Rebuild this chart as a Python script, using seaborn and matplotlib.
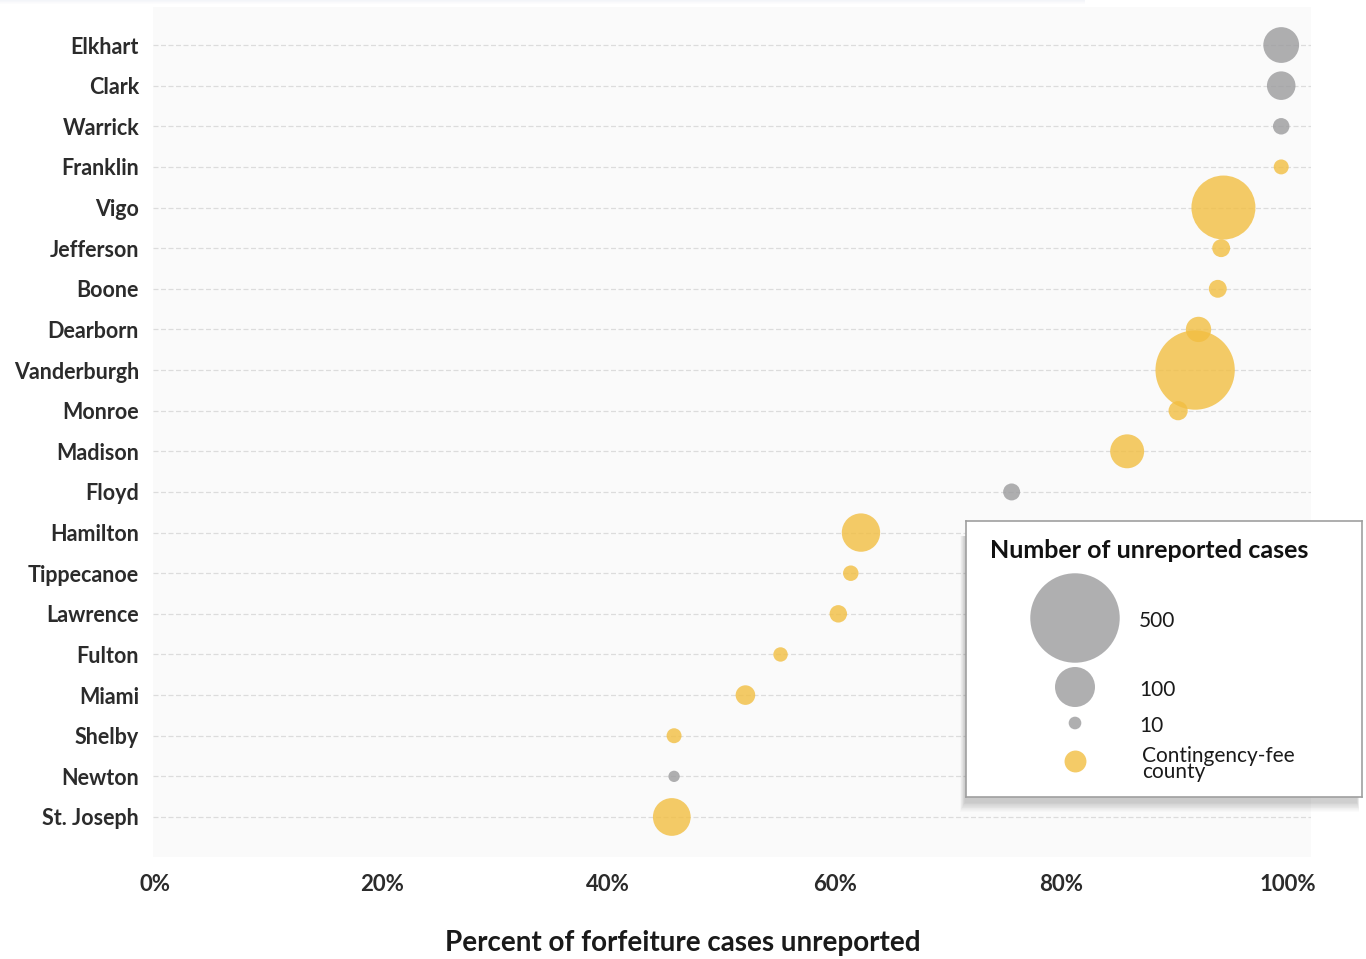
import numpy as np
import pandas as pd
import matplotlib
matplotlib.use("Agg")
import matplotlib.pyplot as plt
import seaborn as sns
from matplotlib.patches import Rectangle

# ---- data -------------------------------------------------------------
counties = ["Elkhart", "Clark", "Warrick", "Franklin", "Vigo", "Jefferson",
            "Boone", "Dearborn", "Vanderburgh", "Monroe", "Madison", "Floyd",
            "Hamilton", "Tippecanoe", "Lawrence", "Fulton", "Miami", "Shelby",
            "Newton", "St. Joseph"]
pct_unreported = [0.994, 0.994, 0.994, 0.994, 0.943, 0.941, 0.938, 0.921,
                  0.918, 0.903, 0.858, 0.756, 0.623, 0.614, 0.603, 0.552,
                  0.521, 0.458, 0.458, 0.456]
unreported_cases = [80, 51, 17, 14, 256, 20, 20, 40, 393, 23, 72, 18, 92,
                    15, 19, 13, 24, 14, 8, 89]
contingency_fee = [False, False, False, True, True, True, True, True, True,
                   True, True, False, True, True, True, True, True, True,
                   False, True]
legend_cases = [500, 100, 10]
x_ticks = [0.0, 0.2, 0.4, 0.6, 0.8, 1.0]
x_tick_labels = ["0%", "20%", "40%", "60%", "80%", "100%"]

df = pd.DataFrame({"county": counties, "pct": pct_unreported,
                   "cases": unreported_cases, "contingency": contingency_fee})

# ---- style ------------------------------------------------------------
W, H, DPI = 1366, 959, 100
YELLOW = "#F2BE41"
GRAY = "#9B9B9D"
ALPHA = 0.8
TEXT = "#2b2b2b"
# marker area (pt^2) grows linearly with case count
AREA_PER_CASE = (4 * 72 / DPI) ** 2
NORM_MAX = 1000

sns.set_theme(style="white")
plt.rcParams["font.family"] = ["Lato", "DejaVu Sans"]

fig = plt.figure(figsize=(W / DPI, H / DPI), dpi=DPI)
ax = fig.add_axes([153 / W, 1 - 857 / H, (1311 - 153) / W, (857 - 7) / H])
ax.set_facecolor("#FAFAFA")

sns.scatterplot(data=df, x="pct", y="county", hue="contingency",
                palette={True: YELLOW, False: GRAY},
                size="cases", sizes=(0, AREA_PER_CASE * NORM_MAX),
                size_norm=(0, NORM_MAX), alpha=ALPHA, linewidth=0,
                legend=False, ax=ax, zorder=3)

n = len(counties)
ax.set_ylim(n - 1 + 0.985, -0.936)
ax.set_xlim(-0.002, 1.0203)
ax.set_yticks(range(n))
ax.set_yticklabels(counties, fontsize=15.5, fontweight="bold", color=TEXT)
ax.set_xticks(x_ticks)
ax.set_xticklabels(x_tick_labels, fontsize=16, fontweight="bold", color=TEXT)
ax.tick_params(axis="y", length=0, pad=10)
ax.tick_params(axis="x", length=0, pad=12)
ax.set_xlabel("")
ax.set_ylabel("")
for s in ax.spines.values():
    s.set_visible(False)
ax.grid(False)
ax.grid(axis="y", color="#dcdcdc", linestyle=(0, (4, 2)), linewidth=0.9)
ax.set_axisbelow(True)

fig.text(0.5, 1 - 943 / H, "Percent of forfeiture cases unreported",
         ha="center", va="center", fontsize=20, fontweight="bold",
         color="#1a1a1a")

# faint band along the top edge
for i, a in enumerate([0.35, 0.25, 0.15, 0.08]):
    fig.patches.append(Rectangle((0, 1 - (i + 1) / H), 1085 / W, 1 / H,
                                 transform=fig.transFigure, color="#dfe3ef",
                                 alpha=a, zorder=0, lw=0))

# ---- size legend ------------------------------------------------------
bx, by, bw, bh = 966, 521, 396, 276
# soft drop shadow under the legend box
for i in range(12, 0, -1):
    fig.patches.append(Rectangle(((bx - 1 - i * 0.4) / W, 1 - (by + bh + 5 + i * 0.8) / H),
                                 (bw - 4 + i * 0.6) / W, (bh - 10 + i * 0.8) / H,
                                 transform=fig.transFigure, color="#000000",
                                 alpha=0.016, zorder=5, lw=0))

lax = fig.add_axes([bx / W, 1 - (by + bh) / H, bw / W, bh / H], zorder=10)
lax.set_xlim(0, bw)
lax.set_ylim(bh, 0)
lax.set_facecolor("white")
lax.set_xticks([])
lax.set_yticks([])
for s in lax.spines.values():
    s.set_color("#9f9f9f")
    s.set_linewidth(1.2)

lax.text(24, 29, "Number of unreported cases", fontsize=18,
         fontweight="bold", color="#111111", va="center", ha="left")
row_y = [97, 166, 202]
lax.scatter([109] * len(legend_cases), row_y,
            s=[AREA_PER_CASE * v for v in legend_cases],
            color=GRAY, alpha=ALPHA, linewidth=0)
for v, y in zip(legend_cases, row_y):
    lax.text(173, y + 3, str(v), fontsize=15, color="#1a1a1a", va="center")
lax.scatter([109], [240], s=AREA_PER_CASE * 30, color=YELLOW, alpha=ALPHA,
            linewidth=0)
lax.text(176, 243, "Contingency-fee\ncounty", fontsize=15, color="#1a1a1a",
         va="center", linespacing=0.8)

fig.savefig("out.png", dpi=DPI)
